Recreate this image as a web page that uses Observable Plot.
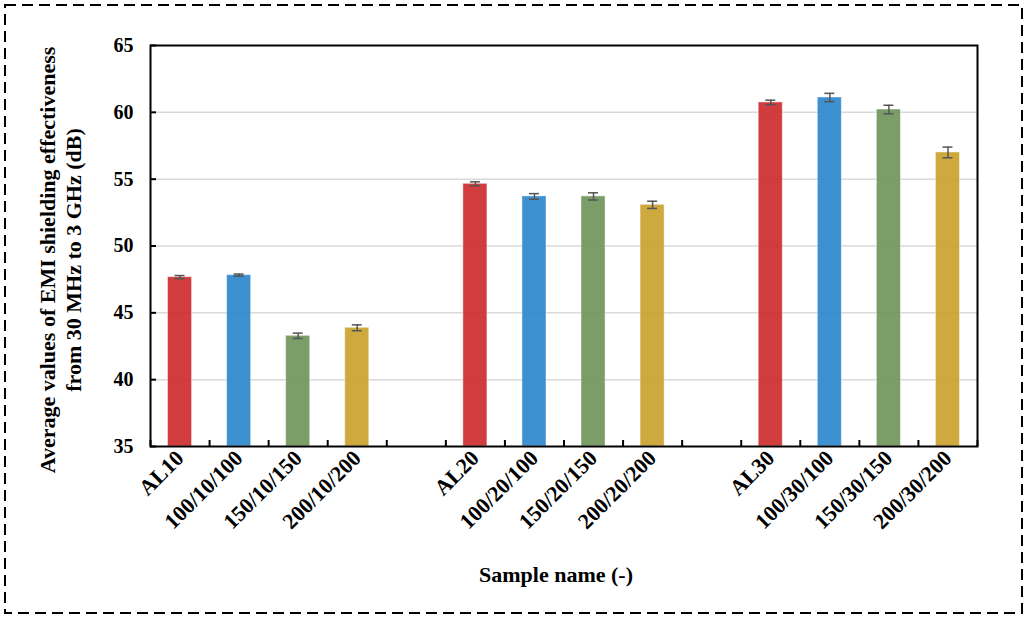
<!DOCTYPE html>
<html><head><meta charset="utf-8">
<script src="https://cdn.jsdelivr.net/npm/d3@7"></script>
<script src="https://cdn.jsdelivr.net/npm/@observablehq/plot@0.6"></script>
<style>
body{margin:0;background:#fff;}
#wrap{position:relative;width:1026px;height:617px;}
#border{position:absolute;left:0;top:0;pointer-events:none;}
</style>
</head><body><div id="wrap"></div>
<script>
// Category slots (blank strings are the empty gaps between groups)
const slotNames = ["AL10","100/10/100","150/10/150","200/10/200","",
                   "AL20","100/20/100","150/20/150","200/20/200"," ",
                   "AL30","100/30/100","150/30/150","200/30/200"];
const samples = ["AL10","100/10/100","150/10/150","200/10/200",
                 "AL20","100/20/100","150/20/150","200/20/200",
                 "AL30","100/30/100","150/30/150","200/30/200"];
const types   = ["AL","100","150","200","AL","100","150","200","AL","100","150","200"];
const values  = [47.67, 47.82, 43.28, 43.88, 54.65, 53.71, 53.71, 53.08, 60.74, 61.11, 60.21, 57.00];
const errors  = [0.12, 0.08, 0.20, 0.22, 0.15, 0.21, 0.27, 0.27, 0.17, 0.31, 0.32, 0.40];
const typeNames  = ["AL","100","150","200"];
const typeColors = ["#cd2c2e","#2d88cc","#70955a","#c9a22e"];
const yDomain = [35, 65];
const yTicks = [35, 40, 45, 50, 55, 60, 65];
const gridTicks = [40, 45, 50, 55, 60];
const yTitle = "Average values of EMI shielding effectiveness\nfrom 30 MHz to 3 GHz (dB)";
const xTitle = "Sample name (-)";

const data = samples.map((s, i) => ({
  name: s, type: types[i], value: values[i], err: errors[i],
  slot: slotNames.indexOf(s)
}));
const boundaries = d3.range(slotNames.length + 1);
const centers = d3.range(slotNames.length).map(i => i + 0.5);

const font = "'Liberation Serif', 'Times New Roman', serif";

const chart = Plot.plot({
  width: 1026, height: 617,
  marginLeft: 150, marginRight: 49, marginTop: 45, marginBottom: 171,
  style: {fontFamily: font, fontWeight: "bold", fontSize: "20px", color: "#000", background: "#fff"},
  x: {type: "linear", domain: [0, slotNames.length], axis: null},
  y: {domain: yDomain, axis: null},
  color: {domain: typeNames, range: typeColors},
  marks: [
    Plot.gridY(gridTicks, {stroke: "#d9d9d9", strokeOpacity: 1, strokeWidth: 1.5}),
    Plot.rectY(data, {
      x1: d => d.slot, x2: d => d.slot + 1, y1: yDomain[0], y2: "value",
      fill: "type", fillOpacity: 0.92, stroke: "#ffffff", strokeOpacity: 0.45, strokeWidth: 1,
      insetLeft: 17.5, insetRight: 17.5
    }),
    Plot.ruleX(data, {x: d => d.slot + 0.5, y1: d => d.value - d.err, y2: d => d.value + d.err, stroke: "#555", strokeWidth: 1.5}),
    Plot.ruleY(data, {y: d => d.value - d.err, x1: d => d.slot + 0.5, x2: d => d.slot + 0.5, insetLeft: -5, insetRight: -5, stroke: "#555", strokeWidth: 1.5}),
    Plot.ruleY(data, {y: d => d.value + d.err, x1: d => d.slot + 0.5, x2: d => d.slot + 0.5, insetLeft: -5, insetRight: -5, stroke: "#555", strokeWidth: 1.5}),
    Plot.ruleX(boundaries, {x: d => d, y1: yDomain[0], y2: yDomain[0], insetTop: -6, stroke: "#000", strokeWidth: 2}),
    Plot.ruleY(yTicks, {y: d => d, x1: 0, x2: 0, insetRight: -6, stroke: "#000", strokeWidth: 2}),
    Plot.frame({stroke: "#000", strokeWidth: 2}),
    Plot.axisY(yTicks, {label: null, tickSize: 0, tickPadding: 17, fontSize: 20, fontWeight: "bold", fill: "#000"}),
    Plot.axisX(centers, {label: null, tickSize: 0, tickPadding: 8, tickRotate: -45, tickFormat: d => slotNames[Math.floor(d)], fontSize: 22, fontWeight: "bold", fill: "#000"}),
    Plot.text([yTitle], {
      frameAnchor: "left", textAnchor: "middle", lineAnchor: "middle", rotate: -90, dx: -91, dy: 14,
      fontSize: 22, fontWeight: "bold", lineHeight: 1.2, fill: "#000"
    }),
    Plot.text([xTitle], {frameAnchor: "bottom", dx: -8, dy: 135, fontSize: 22, fontWeight: "bold", fill: "#000"})
  ]
});
const wrap = document.getElementById("wrap");
wrap.appendChild(chart);
// dashed outer border
const ns = "http://www.w3.org/2000/svg";
const b = document.createElementNS(ns, "svg");
b.setAttribute("id", "border");
b.setAttribute("width", 1026); b.setAttribute("height", 617);
const r = document.createElementNS(ns, "rect");
r.setAttribute("x", 5); r.setAttribute("y", 5);
r.setAttribute("width", 1017); r.setAttribute("height", 608);
r.setAttribute("fill", "none"); r.setAttribute("stroke", "#000");
r.setAttribute("stroke-width", 2); r.setAttribute("stroke-dasharray", "11,6");
b.appendChild(r);
wrap.appendChild(b);
</script>
</body></html>
